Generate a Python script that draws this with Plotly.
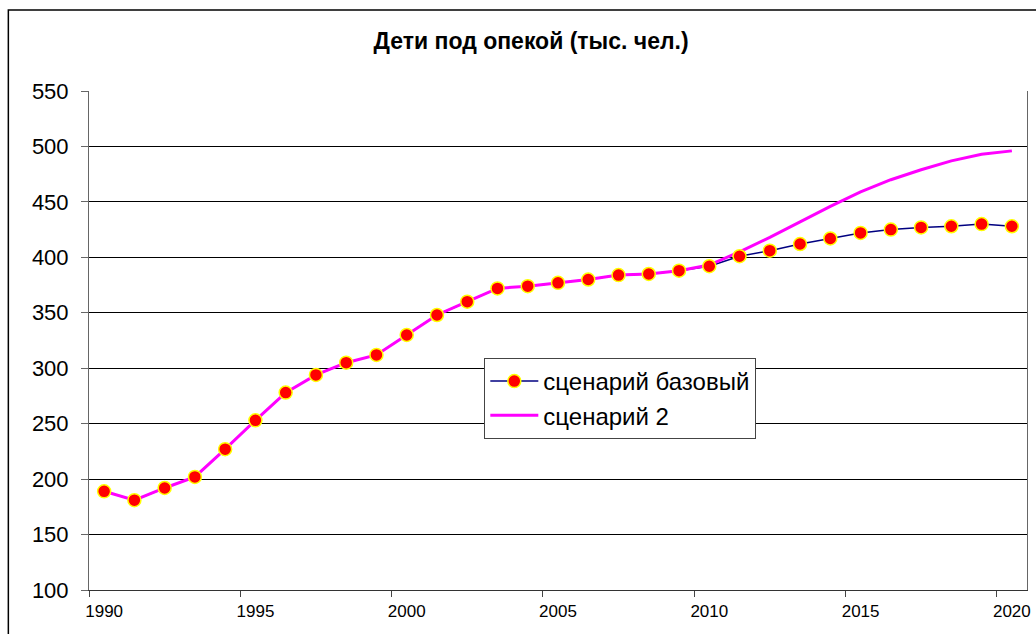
import plotly.graph_objects as go

# годы и значения (тыс. чел.)
years = list(range(1990, 2021))
base = [189, 181, 192, 202, 227, 253, 278, 294, 305, 312,
        330, 348, 360, 372, 374, 377, 380, 384, 385, 388,
        392, 401, 406, 412, 417, 422, 425, 427, 428, 430, 428]
scen2 = [189, 181, 192, 202, 227, 253, 278, 294, 305, 312,
         330, 348, 360, 372, 374, 377, 380, 384, 385, 388,
         393, 405, 418, 432, 446, 459, 470, 479, 487, 493, 496]
year_labels = [1990, 1995, 2000, 2005, 2010, 2015, 2020]
tick_edges = [y - 0.5 for y in year_labels]

FONT = "Liberation Sans, Arial, sans-serif"
base_line = dict(color="#000080", width=1.5)
base_marker = dict(color="#ff0000", size=13, line=dict(color="#ffff00", width=1.5))

fig = go.Figure()
# как в Excel: сначала все линии, потом маркеры
fig.add_trace(go.Scatter(x=years, y=base, mode="lines", line=base_line,
                         showlegend=False, hoverinfo="skip"))
fig.add_trace(go.Scatter(x=years, y=scen2, name="сценарий 2", mode="lines",
                         line=dict(color="#ff00ff", width=3), legendrank=2))
fig.add_trace(go.Scatter(x=years, y=base, name="сценарий базовый", mode="markers",
                         marker=base_marker, showlegend=False))
# запись в легенде для базового сценария (линия + маркер)
fig.add_trace(go.Scatter(x=[None], y=[None], name="сценарий базовый",
                         mode="lines+markers", line=base_line, marker=base_marker,
                         legendrank=1))
# отдельная ось только для засечек на границах категорий
fig.add_trace(go.Scatter(x=[years[0]], y=[base[0]], xaxis="x2", mode="none",
                         showlegend=False, hoverinfo="skip"))

fig.update_layout(
    width=1036, height=634,
    margin=dict(l=89, r=5, t=91, b=44),
    paper_bgcolor="white", plot_bgcolor="white",
    font=dict(family=FONT, color="black"),
    title=dict(text="<b>Дети под опекой (тыс. чел.)</b>", x=(533 - 89) / 942,
               xref="paper", xanchor="center", y=1 - 41 / 634, yanchor="middle",
               font=dict(size=23, family=FONT)),
    xaxis=dict(range=[1989.5, 2020.5], tickmode="array", tickvals=year_labels,
               ticks="", showgrid=False, showline=True, linecolor="#333",
               linewidth=1, tickfont=dict(size=17), zeroline=False,
               ticklabelstandoff=6),
    xaxis2=dict(range=[1989.5, 2020.5], overlaying="x", anchor="y", side="bottom",
                tickmode="array", tickvals=tick_edges, ticks="outside", ticklen=6,
                tickcolor="#444", showticklabels=False, showgrid=False,
                showline=False, zeroline=False),
    yaxis=dict(range=[100, 550], dtick=50, tick0=100, showgrid=True,
               gridcolor="black", gridwidth=1, showline=True, linecolor="#666",
               mirror=True, ticks="outside", ticklen=7, tickcolor="#666",
               tickfont=dict(size=22), zeroline=False, ticklabelstandoff=8),
    legend=dict(x=(486 - 89) / 942, y=(590 - 358) / 499, xanchor="left",
                yanchor="top", bgcolor="white", bordercolor="#444",
                borderwidth=1, font=dict(size=24, family=FONT),
                traceorder="normal", itemwidth=48, tracegroupgap=0),
    shapes=[dict(type="rect", xref="paper", yref="paper",
                 x0=(8 - 89) / 942, x1=1.06, y0=-0.2, y1=1 + (91 - 10) / 499,
                 line=dict(color="black", width=1.5), layer="below")],
)

fig.write_html("out.html", config={"displayModeBar": False},
               post_script="document.body.style.margin='0px';")
